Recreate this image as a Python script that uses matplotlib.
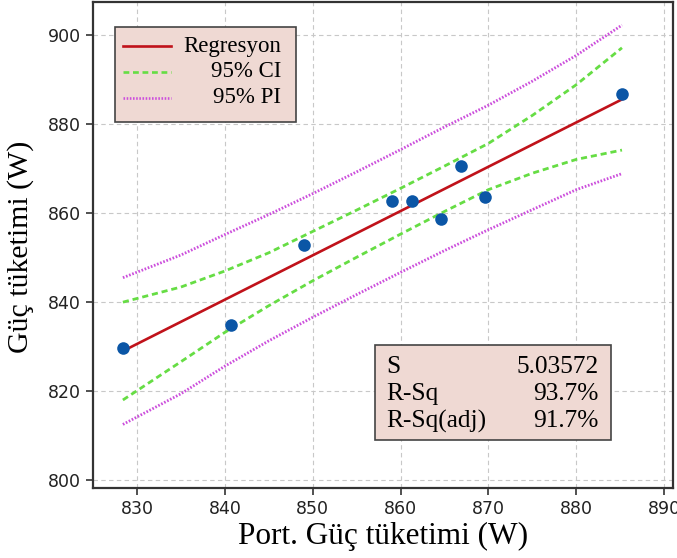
import numpy as np
import matplotlib.pyplot as plt
from matplotlib.patches import Rectangle

# olculen noktalar
port_guc = [828.4, 840.7, 849.0, 859.0, 861.3, 864.6, 866.9, 869.6, 885.2]
guc = [829.8, 834.8, 852.8, 862.8, 862.8, 858.7, 870.7, 863.7, 886.7]

# regresyon dogrusu uclari
reg_x = [828.4, 885.2]
reg_y = [829.0, 885.6]

# guven / tahmin bantlari
band_x = [828.4, 835, 840, 845, 850, 855, 860, 865, 870, 875, 880, 885.2]
ci_ust = [840.0, 843.4, 847.0, 851.1, 855.9, 860.7, 865.6, 870.6, 875.7, 882.0, 888.9, 897.2]
ci_alt = [818.0, 826.6, 833.2, 839.2, 844.8, 850.1, 855.3, 860.4, 865.3, 869.0, 872.1, 874.2]
pi_ust = [845.5, 850.6, 855.2, 859.7, 864.4, 869.3, 874.3, 879.4, 884.3, 889.7, 895.5, 902.3]
pi_alt = [812.5, 819.4, 825.6, 831.3, 836.6, 841.7, 846.7, 851.6, 856.3, 860.8, 865.3, 868.9]

xticks = [830, 840, 850, 860, 870, 880, 890]
yticks = [800, 820, 840, 860, 880, 900]

stat_isim = ['S', 'R-Sq', 'R-Sq(adj)']
stat_deger = ['5.03572', '93.7%', '91.7%']

kirmizi = '#c0121a'
yesil = '#66dd44'
mor = '#cc4fdc'
mavi = '#0b56a6'
serif = 'Liberation Serif'

fig = plt.figure(figsize=(6.77, 5.58), dpi=100)
ax = fig.add_axes([0.1374, 0.1254, 0.8566, 0.871])

ax.grid(True, color='#c8c8c8', linestyle=(0, (4, 3)), linewidth=0.8)
ax.set_axisbelow(True)

ax.plot(band_x, pi_ust, color=mor, linestyle=(0, (0.6, 0.6)), lw=2.0, zorder=2)
ax.plot(band_x, pi_alt, color=mor, linestyle=(0, (0.6, 0.6)), lw=2.0, zorder=2)
ax.plot(band_x, ci_ust, color=yesil, linestyle=(0, (2.2, 1.4)), lw=2.0, zorder=2)
ax.plot(band_x, ci_alt, color=yesil, linestyle=(0, (2.2, 1.4)), lw=2.0, zorder=2)
ax.plot(reg_x, reg_y, color=kirmizi, lw=1.9, zorder=3)
ax.scatter(port_guc, guc, s=82, color=mavi, zorder=4, linewidths=0)

ax.set_xlim(825, 891)
ax.set_ylim(798.2, 907.5)
ax.set_xticks(xticks)
ax.set_yticks(yticks)
ax.tick_params(labelsize=12.5, labelcolor='#222222', length=5, width=1.2, color='#333333')
for s in ax.spines.values():
    s.set_linewidth(1.6)
    s.set_color('#333333')

ax.set_xlabel('Port. Güç tüketimi (W)', family=serif, fontsize=22.5, labelpad=3)
ax.set_ylabel('Güç tüketimi (W)', family=serif, fontsize=21.5)
ax.yaxis.set_label_coords(-0.102, 0.497)

# legend kutusu
ax.add_patch(Rectangle((0.038, 0.753), 0.312, 0.196, transform=ax.transAxes,
                       facecolor='#efd9d3', edgecolor='#444444', lw=1.2, zorder=5))
leg = [('Regresyon', kirmizi, '-'), ('95% CI', yesil, (0, (2.2, 1.4))),
       ('95% PI', mor, (0, (0.6, 0.6)))]
for i, (ad, renk, ls) in enumerate(leg):
    yy = 0.909 - i * 0.053
    ax.plot([0.051, 0.134], [yy, yy], transform=ax.transAxes, color=renk,
            linestyle=ls, lw=1.9, zorder=6)
    ax.text(0.325, yy, ad, transform=ax.transAxes, ha='right', va='center',
            family=serif, fontsize=16.5, zorder=6)

# istatistik kutusu
ax.add_patch(Rectangle((0.486, 0.099), 0.407, 0.196, transform=ax.transAxes,
                       facecolor='#efd9d3', edgecolor='#444444', lw=1.2, zorder=5))
for i in range(3):
    yy = 0.248 - i * 0.055
    ax.text(0.506, yy, stat_isim[i], transform=ax.transAxes, ha='left', va='center',
            family=serif, fontsize=18.3, zorder=6)
    ax.text(0.871, yy, stat_deger[i], transform=ax.transAxes, ha='right', va='center',
            family=serif, fontsize=18.3, zorder=6)

fig.savefig('out.png', dpi=100)
